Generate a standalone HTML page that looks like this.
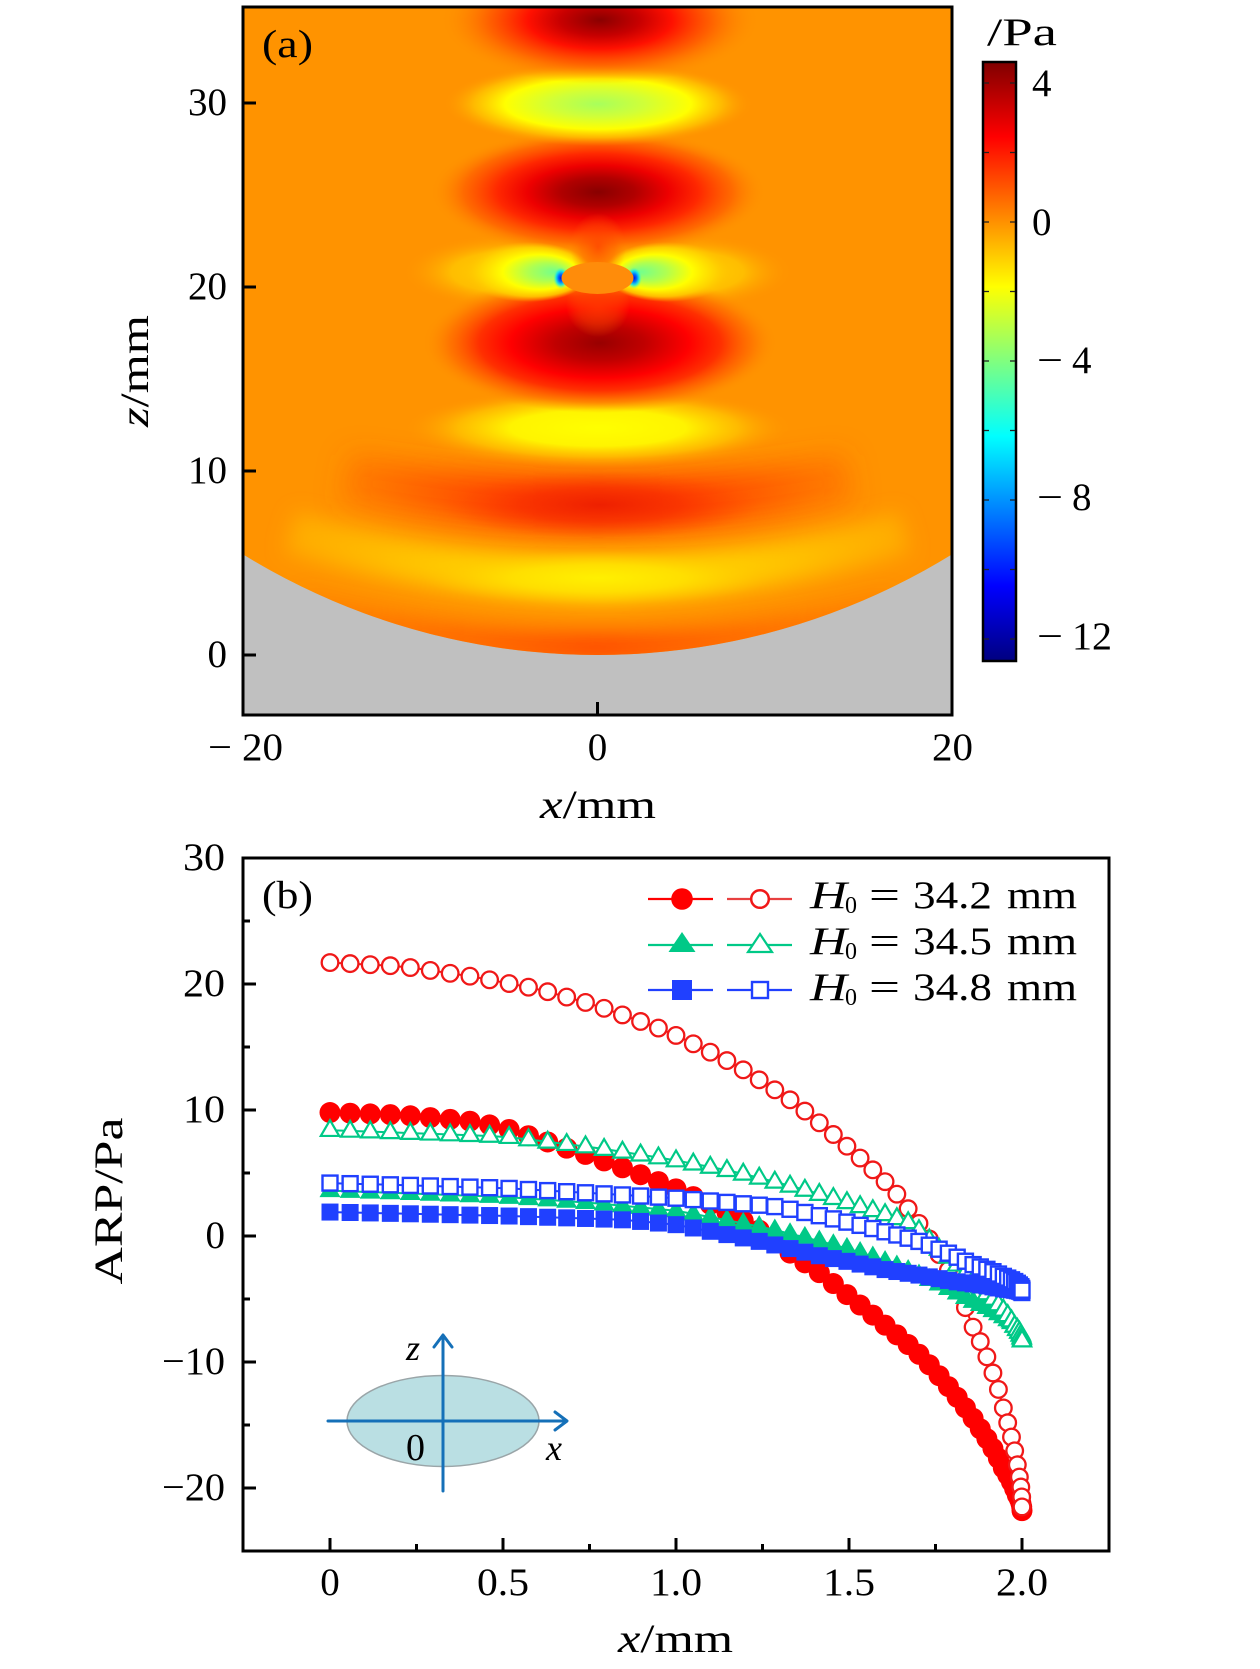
<!DOCTYPE html>
<html>
<head>
<meta charset="utf-8">
<style>
html,body{margin:0;padding:0;background:#fff;}
svg{display:block;}
text{font-family:"Liberation Serif","DejaVu Serif",serif;fill:#000;}
.it{font-style:italic;}
</style>
</head>
<body>
<svg width="1260" height="1669" viewBox="0 0 1260 1669" xmlns="http://www.w3.org/2000/svg">
<defs>
  <clipPath id="plotA"><rect x="243" y="7" width="709" height="708"/></clipPath>
  <clipPath id="field"><ellipse cx="597.5" cy="-60" rx="693" ry="715"/></clipPath>
  <filter id="b10" filterUnits="userSpaceOnUse" x="0" y="-100" width="1260" height="1000"><feGaussianBlur stdDeviation="10"/></filter>
  <filter id="b12" filterUnits="userSpaceOnUse" x="0" y="-100" width="1260" height="1000"><feGaussianBlur stdDeviation="12"/></filter>
  <filter id="b14" filterUnits="userSpaceOnUse" x="0" y="-100" width="1260" height="1000"><feGaussianBlur stdDeviation="14"/></filter>

  <linearGradient id="jet" x1="0" y1="0" x2="0" y2="1">
    <stop offset="0" stop-color="#800000"/>
    <stop offset="0.125" stop-color="#FF0000"/>
    <stop offset="0.375" stop-color="#FFFF00"/>
    <stop offset="0.625" stop-color="#00FFFF"/>
    <stop offset="0.875" stop-color="#0000FF"/>
    <stop offset="1" stop-color="#000080"/>
  </linearGradient>

  <linearGradient id="sH" gradientUnits="userSpaceOnUse" x1="243" y1="0" x2="952" y2="0">
    <stop offset="0" stop-color="#FF6000" stop-opacity="0.1"/>
    <stop offset="0.3" stop-color="#FF5800" stop-opacity="0.7"/>
    <stop offset="0.5" stop-color="#FF4C00" stop-opacity="1"/>
    <stop offset="0.7" stop-color="#FF5800" stop-opacity="0.7"/>
    <stop offset="1" stop-color="#FF6000" stop-opacity="0.1"/>
  </linearGradient>
  <linearGradient id="sG" gradientUnits="userSpaceOnUse" x1="243" y1="0" x2="952" y2="0">
    <stop offset="0" stop-color="#FFC000" stop-opacity="0.35"/>
    <stop offset="0.22" stop-color="#FFCC00" stop-opacity="0.8"/>
    <stop offset="0.5" stop-color="#FFEE00" stop-opacity="1"/>
    <stop offset="0.78" stop-color="#FFCC00" stop-opacity="0.8"/>
    <stop offset="1" stop-color="#FFC000" stop-opacity="0.35"/>
  </linearGradient>
  <linearGradient id="sF" gradientUnits="userSpaceOnUse" x1="243" y1="0" x2="952" y2="0">
    <stop offset="0" stop-color="#FF5000" stop-opacity="0"/>
    <stop offset="0.18" stop-color="#FF4800" stop-opacity="0.4"/>
    <stop offset="0.38" stop-color="#FF3000" stop-opacity="0.9"/>
    <stop offset="0.5" stop-color="#F82800" stop-opacity="1"/>
    <stop offset="0.62" stop-color="#FF3000" stop-opacity="0.9"/>
    <stop offset="0.82" stop-color="#FF4800" stop-opacity="0.4"/>
    <stop offset="1" stop-color="#FF5000" stop-opacity="0"/>
  </linearGradient>

  <radialGradient id="rA">
    <stop offset="0" stop-color="#8A0000"/>
    <stop offset="0.25" stop-color="#C80000"/>
    <stop offset="0.45" stop-color="#FF1000"/>
    <stop offset="0.7" stop-color="#FF5A00" stop-opacity="0.85"/>
    <stop offset="1" stop-color="#FF9300" stop-opacity="0"/>
  </radialGradient>
  <radialGradient id="rB">
    <stop offset="0" stop-color="#A8FF5C"/>
    <stop offset="0.3" stop-color="#D0FF38"/>
    <stop offset="0.6" stop-color="#FFFF00"/>
    <stop offset="0.8" stop-color="#FFC400" stop-opacity="0.8"/>
    <stop offset="1" stop-color="#FF9300" stop-opacity="0"/>
  </radialGradient>
  <radialGradient id="rC">
    <stop offset="0" stop-color="#880000"/>
    <stop offset="0.22" stop-color="#B00000"/>
    <stop offset="0.42" stop-color="#EE0000"/>
    <stop offset="0.6" stop-color="#FF2800"/>
    <stop offset="0.8" stop-color="#FF6000" stop-opacity="0.8"/>
    <stop offset="1" stop-color="#FF9300" stop-opacity="0"/>
  </radialGradient>
  <radialGradient id="rD">
    <stop offset="0" stop-color="#980000"/>
    <stop offset="0.25" stop-color="#C00000"/>
    <stop offset="0.5" stop-color="#FF0000"/>
    <stop offset="0.68" stop-color="#FF3000"/>
    <stop offset="0.85" stop-color="#FF6A00" stop-opacity="0.7"/>
    <stop offset="1" stop-color="#FF9300" stop-opacity="0"/>
  </radialGradient>
  <radialGradient id="rE">
    <stop offset="0" stop-color="#FFFF00"/>
    <stop offset="0.45" stop-color="#FFF400"/>
    <stop offset="0.72" stop-color="#FFC400" stop-opacity="0.8"/>
    <stop offset="1" stop-color="#FF9300" stop-opacity="0"/>
  </radialGradient>
  <radialGradient id="rG">
    <stop offset="0" stop-color="#FFF000"/>
    <stop offset="0.5" stop-color="#FFE000" stop-opacity="0.85"/>
    <stop offset="1" stop-color="#FFC000" stop-opacity="0"/>
  </radialGradient>
  <radialGradient id="rF">
    <stop offset="0" stop-color="#EE2000"/>
    <stop offset="0.5" stop-color="#F83000" stop-opacity="0.7"/>
    <stop offset="1" stop-color="#FF5000" stop-opacity="0"/>
  </radialGradient>
  <radialGradient id="rL">
    <stop offset="0" stop-color="#FFD800"/>
    <stop offset="0.55" stop-color="#FFC800" stop-opacity="0.8"/>
    <stop offset="1" stop-color="#FF9300" stop-opacity="0"/>
  </radialGradient>
  <radialGradient id="rLl" fx="0.72" fy="0.5">
    <stop offset="0" stop-color="#70FF90"/>
    <stop offset="0.3" stop-color="#B0FF50"/>
    <stop offset="0.58" stop-color="#FFFF00"/>
    <stop offset="0.82" stop-color="#FFD800" stop-opacity="0.8"/>
    <stop offset="1" stop-color="#FFC000" stop-opacity="0"/>
  </radialGradient>
  <radialGradient id="rLr" fx="0.28" fy="0.5">
    <stop offset="0" stop-color="#70FF90"/>
    <stop offset="0.3" stop-color="#B0FF50"/>
    <stop offset="0.58" stop-color="#FFFF00"/>
    <stop offset="0.82" stop-color="#FFD800" stop-opacity="0.8"/>
    <stop offset="1" stop-color="#FFC000" stop-opacity="0"/>
  </radialGradient>
  <radialGradient id="rS">
    <stop offset="0" stop-color="#0010E0"/>
    <stop offset="0.35" stop-color="#0070FF"/>
    <stop offset="0.65" stop-color="#00E0FF" stop-opacity="0.8"/>
    <stop offset="1" stop-color="#80FF80" stop-opacity="0"/>
  </radialGradient>
  <radialGradient id="rN">
    <stop offset="0" stop-color="#FF4000" stop-opacity="0.75"/>
    <stop offset="0.6" stop-color="#FF5400" stop-opacity="0.4"/>
    <stop offset="1" stop-color="#FF7000" stop-opacity="0"/>
  </radialGradient>
</defs>

<rect x="0" y="0" width="1260" height="1669" fill="#fff"/>

<!-- ================= PANEL (a) ================= -->
<g clip-path="url(#plotA)">
  <rect x="243" y="7" width="709" height="708" fill="#C0C0C0"/>
  <g clip-path="url(#field)">
    <rect x="243" y="7" width="709" height="708" fill="#FF9300"/>
    <path d="M300,605 Q598,690 895,605" stroke="url(#sH)" stroke-width="30" fill="none" filter="url(#b10)"/>
    <path d="M345,478 Q598,530 850,478" stroke="url(#sF)" stroke-width="50" fill="none" filter="url(#b14)"/>
    <ellipse cx="600" cy="505" rx="160" ry="34" fill="url(#rF)"/>
    <path d="M290,532 Q598,626 905,532" stroke="url(#sG)" stroke-width="42" fill="none" filter="url(#b10)"/>
    <ellipse cx="598" cy="578" rx="175" ry="27" fill="url(#rG)"/>
    <ellipse cx="598" cy="428" rx="195" ry="40" fill="url(#rE)"/>
    <ellipse cx="512" cy="272" rx="110" ry="38" fill="url(#rL)"/>
    <ellipse cx="683" cy="272" rx="110" ry="38" fill="url(#rL)"/>
    <ellipse cx="600" cy="343" rx="178" ry="70" fill="url(#rD)"/>
    <ellipse cx="598" cy="192" rx="168" ry="64" fill="url(#rC)"/>
    <ellipse cx="598" cy="104" rx="155" ry="42" fill="url(#rB)"/>
    <ellipse cx="600" cy="20" rx="160" ry="64" fill="url(#rA)"/>
    <ellipse cx="528" cy="272" rx="64" ry="30" fill="url(#rLl)"/>
    <ellipse cx="667" cy="272" rx="64" ry="30" fill="url(#rLr)"/>
    <ellipse cx="598" cy="247" rx="28" ry="34" fill="url(#rN)"/>
    <ellipse cx="598" cy="305" rx="32" ry="32" fill="url(#rN)"/>
    <ellipse cx="561" cy="278" rx="8" ry="11" fill="url(#rS)"/>
    <ellipse cx="634" cy="278" rx="8" ry="11" fill="url(#rS)"/>
    <ellipse cx="597.5" cy="278" rx="36" ry="16" fill="#FF8C0A"/>
  </g>
</g>
<rect x="243" y="7" width="709" height="708" fill="none" stroke="#000" stroke-width="3"/>
<g stroke="#000" stroke-width="3">
  <line x1="243" y1="103" x2="256" y2="103"/>
  <line x1="243" y1="287" x2="256" y2="287"/>
  <line x1="243" y1="471" x2="256" y2="471"/>
  <line x1="243" y1="655" x2="256" y2="655"/>
  <line x1="597.5" y1="715" x2="597.5" y2="702"/>
</g>
<g font-size="39">
  <text x="227" y="115" text-anchor="end">30</text>
  <text x="227" y="299" text-anchor="end">20</text>
  <text x="227" y="483" text-anchor="end">10</text>
  <text x="227" y="667" text-anchor="end">0</text>
  <text x="208" y="760" textLength="24" lengthAdjust="spacingAndGlyphs">−</text>
  <text x="242" y="760" textLength="41" lengthAdjust="spacingAndGlyphs">20</text>
  <text x="597.5" y="760" text-anchor="middle">0</text>
  <text x="932" y="760" textLength="41" lengthAdjust="spacingAndGlyphs">20</text>
  <text x="262" y="57" textLength="51" lengthAdjust="spacingAndGlyphs">(a)</text>
</g>
<text x="540" y="818" font-size="40" textLength="116" lengthAdjust="spacingAndGlyphs"><tspan class="it">x</tspan>/mm</text>
<text transform="translate(148,371) rotate(-90)" font-size="40" text-anchor="middle" textLength="112" lengthAdjust="spacingAndGlyphs"><tspan class="it">z</tspan>/mm</text>

<!-- colorbar -->
<rect x="983" y="62" width="33" height="599" fill="url(#jet)" stroke="#000" stroke-width="2.5"/>
<g stroke="#222" stroke-width="1.3">
  <line x1="984" y1="83" x2="989" y2="83"/><line x1="1010" y1="83" x2="1015" y2="83"/>
  <line x1="984" y1="152.5" x2="989" y2="152.5"/><line x1="1010" y1="152.5" x2="1015" y2="152.5"/>
  <line x1="984" y1="222" x2="989" y2="222"/><line x1="1010" y1="222" x2="1015" y2="222"/>
  <line x1="984" y1="291.5" x2="989" y2="291.5"/><line x1="1010" y1="291.5" x2="1015" y2="291.5"/>
  <line x1="984" y1="361" x2="989" y2="361"/><line x1="1010" y1="361" x2="1015" y2="361"/>
  <line x1="984" y1="430.5" x2="989" y2="430.5"/><line x1="1010" y1="430.5" x2="1015" y2="430.5"/>
  <line x1="984" y1="500" x2="989" y2="500"/><line x1="1010" y1="500" x2="1015" y2="500"/>
  <line x1="984" y1="569.5" x2="989" y2="569.5"/><line x1="1010" y1="569.5" x2="1015" y2="569.5"/>
  <line x1="984" y1="639" x2="989" y2="639"/><line x1="1010" y1="639" x2="1015" y2="639"/>
</g>
<g font-size="39">
  <text x="987" y="45" textLength="70" lengthAdjust="spacingAndGlyphs">/Pa</text>
  <text x="1032" y="96">4</text>
  <text x="1032" y="235">0</text>
  <text x="1037" y="373" textLength="26" lengthAdjust="spacingAndGlyphs">−</text>
  <text x="1072" y="373">4</text>
  <text x="1037" y="510" textLength="26" lengthAdjust="spacingAndGlyphs">−</text>
  <text x="1072" y="510">8</text>
  <text x="1037" y="649" textLength="26" lengthAdjust="spacingAndGlyphs">−</text>
  <text x="1072" y="649" textLength="40" lengthAdjust="spacingAndGlyphs">12</text>
</g>

<!-- ================= PANEL (b) ================= -->
<g id="series"></g>

<!-- inset -->
<ellipse cx="443" cy="1421" rx="96" ry="45.5" fill="#BADFE3" stroke="#9AA5A8" stroke-width="1.5"/>
<g stroke="#1570B8" stroke-width="3" fill="none" stroke-linecap="round" stroke-linejoin="round">
  <line x1="328" y1="1421" x2="566" y2="1421"/>
  <polyline points="555,1412 567,1421 555,1430"/>
  <line x1="443" y1="1491" x2="443" y2="1336"/>
  <polyline points="434,1347 443,1335 452,1347"/>
</g>
<text x="406" y="1360" font-size="36" class="it">z</text>
<text x="546" y="1460" font-size="36" class="it">x</text>
<text x="406" y="1460" font-size="38">0</text>

<rect x="243" y="858" width="866" height="693" fill="none" stroke="#000" stroke-width="3"/>
<g stroke="#000" stroke-width="3">
  <line x1="243" y1="858" x2="256" y2="858"/>
  <line x1="243" y1="984" x2="256" y2="984"/>
  <line x1="243" y1="1110" x2="256" y2="1110"/>
  <line x1="243" y1="1236" x2="256" y2="1236"/>
  <line x1="243" y1="1362" x2="256" y2="1362"/>
  <line x1="243" y1="1488" x2="256" y2="1488"/>
  <line x1="243" y1="921" x2="250" y2="921"/>
  <line x1="243" y1="1047" x2="250" y2="1047"/>
  <line x1="243" y1="1173" x2="250" y2="1173"/>
  <line x1="243" y1="1299" x2="250" y2="1299"/>
  <line x1="243" y1="1425" x2="250" y2="1425"/>
  <line x1="330" y1="1551" x2="330" y2="1538"/>
  <line x1="503" y1="1551" x2="503" y2="1538"/>
  <line x1="676" y1="1551" x2="676" y2="1538"/>
  <line x1="849" y1="1551" x2="849" y2="1538"/>
  <line x1="1022" y1="1551" x2="1022" y2="1538"/>
  <line x1="416.5" y1="1551" x2="416.5" y2="1544"/>
  <line x1="589.5" y1="1551" x2="589.5" y2="1544"/>
  <line x1="762.5" y1="1551" x2="762.5" y2="1544"/>
  <line x1="935.5" y1="1551" x2="935.5" y2="1544"/>
</g>
<g font-size="39">
  <text x="225" y="870" text-anchor="end" textLength="42" lengthAdjust="spacingAndGlyphs">30</text>
  <text x="225" y="996" text-anchor="end" textLength="42" lengthAdjust="spacingAndGlyphs">20</text>
  <text x="225" y="1122" text-anchor="end" textLength="42" lengthAdjust="spacingAndGlyphs">10</text>
  <text x="225" y="1248" text-anchor="end">0</text>
  <text x="225" y="1374" text-anchor="end" textLength="63" lengthAdjust="spacingAndGlyphs">−10</text>
  <text x="225" y="1500" text-anchor="end" textLength="63" lengthAdjust="spacingAndGlyphs">−20</text>
  <text x="330" y="1595" text-anchor="middle">0</text>
  <text x="503" y="1595" text-anchor="middle" textLength="52" lengthAdjust="spacingAndGlyphs">0.5</text>
  <text x="676" y="1595" text-anchor="middle" textLength="52" lengthAdjust="spacingAndGlyphs">1.0</text>
  <text x="849" y="1595" text-anchor="middle" textLength="52" lengthAdjust="spacingAndGlyphs">1.5</text>
  <text x="1022" y="1595" text-anchor="middle" textLength="52" lengthAdjust="spacingAndGlyphs">2.0</text>
  <text x="262" y="908" textLength="51" lengthAdjust="spacingAndGlyphs">(b)</text>
</g>
<text x="618" y="1652" font-size="40" textLength="115" lengthAdjust="spacingAndGlyphs"><tspan class="it">x</tspan>/mm</text>
<text transform="translate(122,1201) rotate(-90)" font-size="40" text-anchor="middle" textLength="167" lengthAdjust="spacingAndGlyphs">ARP/Pa</text>

<!-- legend -->
<g stroke-width="2.2">
  <line x1="648" y1="899" x2="713" y2="899" stroke="#FF0000"/>
  <line x1="727" y1="899" x2="792" y2="899" stroke="#E84040"/>
  <circle cx="682" cy="899" r="10.8" fill="#FF0000" stroke="none"/>
  <circle cx="760" cy="899" r="8.8" fill="#fff" stroke="#F01818" stroke-width="2.5"/>
  <line x1="648" y1="945" x2="713" y2="945" stroke="#00C987"/>
  <line x1="727" y1="945" x2="792" y2="945" stroke="#00C987"/>
  <polygon points="682,932 668.5,952 695.5,952" fill="#00C987" stroke="none"/>
  <polygon points="760,934 748,952 772,952" fill="#fff" stroke="#00C987" stroke-width="2.2"/>
  <line x1="648" y1="990" x2="713" y2="990" stroke="#2040FF"/>
  <line x1="727" y1="990" x2="792" y2="990" stroke="#2040FF"/>
  <rect x="672" y="980" width="20" height="20" fill="#2040FF" stroke="none"/>
  <rect x="752" y="982" width="16" height="16" fill="#fff" stroke="#2040FF" stroke-width="2.4"/>
</g>
<g font-size="39">
  <text x="810" y="908" class="it" textLength="37" lengthAdjust="spacingAndGlyphs">H</text>
  <text x="845" y="913" font-size="24">0</text>
  <text x="869" y="908" textLength="31" lengthAdjust="spacingAndGlyphs">=</text>
  <text x="913" y="908" textLength="79" lengthAdjust="spacingAndGlyphs">34.2</text>
  <text x="1007" y="908" textLength="70" lengthAdjust="spacingAndGlyphs">mm</text>

  <text x="810" y="954" class="it" textLength="37" lengthAdjust="spacingAndGlyphs">H</text>
  <text x="845" y="959" font-size="24">0</text>
  <text x="869" y="954" textLength="31" lengthAdjust="spacingAndGlyphs">=</text>
  <text x="913" y="954" textLength="79" lengthAdjust="spacingAndGlyphs">34.5</text>
  <text x="1007" y="954" textLength="70" lengthAdjust="spacingAndGlyphs">mm</text>

  <text x="810" y="1000" class="it" textLength="37" lengthAdjust="spacingAndGlyphs">H</text>
  <text x="845" y="1005" font-size="24">0</text>
  <text x="869" y="1000" textLength="31" lengthAdjust="spacingAndGlyphs">=</text>
  <text x="913" y="1000" textLength="79" lengthAdjust="spacingAndGlyphs">34.8</text>
  <text x="1007" y="1000" textLength="70" lengthAdjust="spacingAndGlyphs">mm</text>
</g>
</svg>

<script>
(function(){
  var NS='http://www.w3.org/2000/svg';
  var g=document.getElementById('series');
  function el(n,a){var e=document.createElementNS(NS,n);for(var k in a)e.setAttribute(k,a[k]);return e;}
  function interp(c,t){for(var i=0;i<c.length-1;i++){if(t<=c[i+1][0]){var a=c[i],b=c[i+1];return a[1]+(b[1]-a[1])*(t-a[0])/(b[0]-a[0]);}}return c[c.length-1][1];}
  function px(x){return 330+346*x;}
  function py(v){return 1236-12.6*v;}
  var S=[
    {c:'#FF0000',m:'o',f:1,d:[[0,9.8],[6,9.6],[11.8,9.1],[14.5,8.6],[22.6,6.2],[29.3,4.0],[35.8,1.6],[39.8,-0.2],[40.9,-1.0],[45.2,-3.0],[49,-5.0],[53.6,-7.2],[58.8,-9.6],[64.2,-12.4],[70,-15.3],[76.6,-18.4],[83,-20.5],[90,-21.8]]},
    {c:'#F01818',m:'o',f:0,d:[[0,21.7],[6,21.4],[11.8,20.6],[17.5,19.6],[22.6,18.3],[29.3,16.2],[35.8,13.6],[42.1,10.6],[48.2,7.2],[54.6,3.6],[58.2,1.1],[65.2,-4.1],[67.7,-6.8],[70.9,-9.0],[74.8,-12],[76.6,-13.6],[79.3,-15.5],[81.9,-17.2],[84.3,-18.8],[90,-21.5]]},
    {c:'#00C987',m:'t',f:1,d:[[0,3.6],[14.5,3.1],[22.6,2.6],[30,2.0],[38.7,0.7],[49,-1.1],[58.8,-3.2],[67.7,-5.1],[76.6,-6.4],[83,-7.3],[90,-8.2]]},
    {c:'#00C987',m:'t',f:0,d:[[0,8.4],[14.5,7.9],[22.6,7.0],[29.3,6.1],[35.8,5.1],[42.1,3.9],[48.2,2.7],[57.1,1.0],[61.6,-1.0],[67.7,-3.3],[71.8,-4.6],[77.2,-6.0],[81.9,-7.2],[90,-8.3]]},
    {c:'#2040FF',m:'s',f:1,d:[[0,1.9],[14.5,1.6],[24.8,1.3],[30,0.9],[37.6,-0.3],[45.2,-1.6],[53.6,-2.7],[64.2,-3.6],[76.6,-4.2],[90,-4.5]]},
    {c:'#2040FF',m:'s',f:0,d:[[0,4.2],[14.5,3.8],[30,3.0],[40.5,2.3],[49,1.0],[58.8,-0.5],[67.7,-2.2],[76.6,-3.2],[90,-4.3]]}
  ];
  var N=54;
  S.forEach(function(s){
    var pts=[];
    for(var k=0;k<=N;k++){
      var th=90*k/N;
      var x=2*Math.sin(th*Math.PI/180);
      var v=interp(s.d,th);
      pts.push([px(x),py(v)]);
    }
    g.appendChild(el('polyline',{points:pts.map(function(p){return p[0].toFixed(1)+','+p[1].toFixed(1);}).join(' '),fill:'none',stroke:s.c,'stroke-width':2}));
    pts.forEach(function(p){
      var x=p[0],y=p[1];
      if(s.m==='o'){
        if(s.f) g.appendChild(el('circle',{cx:x,cy:y,r:10.5,fill:s.c}));
        else g.appendChild(el('circle',{cx:x,cy:y,r:8.3,fill:'#fff',stroke:s.c,'stroke-width':2.3}));
      } else if(s.m==='t'){
        if(s.f) g.appendChild(el('polygon',{points:x+','+(y-11.5)+' '+(x-10.5)+','+(y+6.5)+' '+(x+10.5)+','+(y+6.5),fill:s.c}));
        else g.appendChild(el('polygon',{points:x+','+(y-10)+' '+(x-9.2)+','+(y+5.8)+' '+(x+9.2)+','+(y+5.8),fill:'#fff',stroke:s.c,'stroke-width':2.2}));
      } else {
        if(s.f) g.appendChild(el('rect',{x:x-8.5,y:y-8.5,width:17,height:17,fill:s.c}));
        else g.appendChild(el('rect',{x:x-7.5,y:y-7.5,width:15,height:15,fill:'#fff',stroke:s.c,'stroke-width':2.4}));
      }
    });
  });
})();
</script>
</body>
</html>
